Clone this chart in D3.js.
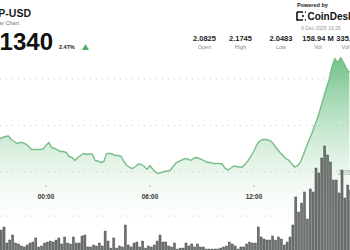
<!DOCTYPE html>
<html><head><meta charset="utf-8">
<script src="https://cdn.jsdelivr.net/npm/d3@7"></script>
<style>
html,body{margin:0;padding:0;background:#fff;overflow:hidden}
svg{display:block;font-family:"Liberation Sans",Arial,sans-serif}
</style></head>
<body><svg id="c" width="350" height="250"></svg>
<script>
// ---- data ----
const symbol = "XRP-USD";
const subtitle = "XRP to US Dollar Chart";
const lastPrice = "2.1340";
const changePct = "2.47%";
const statValues = ["2.0825", "2.1745", "2.0483", "158.94 M", "335.87 M"];
const statLabels = ["Open", "High", "Low", "Vol", "Vol USD"];
const stampText = "9 Dec 2025 19:25";
const tickLabels = ["00:00", "06:00", "12:00"];
const tickTimes = ["2025-12-09T00:00", "2025-12-09T06:00", "2025-12-09T12:00"];
const priceGrid = [2.05, 2.10, 2.15];
const volGrid = [4];
const startTime = "2025-12-08T21:20";
const stepMinutes = 10;
const prices = [
 2.0860,2.0871,2.0882,2.0887,2.0849,2.0828,2.0806,2.0817,2.0817,2.0801,
 2.0774,2.0742,2.0742,2.0742,2.0742,2.0747,2.0785,2.0817,2.0763,2.0753,
 2.0737,2.0720,2.0720,2.0710,2.0667,2.0656,2.0624,2.0656,2.0677,2.0699,
 2.0688,2.0694,2.0694,2.0624,2.0618,2.0602,2.0613,2.0699,2.0699,2.0694,
 2.0677,2.0677,2.0667,2.0613,2.0570,2.0548,2.0538,2.0559,2.0586,2.0581,
 2.0559,2.0527,2.0570,2.0527,2.0495,2.0484,2.0495,2.0505,2.0511,2.0516,
 2.0559,2.0597,2.0613,2.0629,2.0645,2.0640,2.0624,2.0645,2.0656,2.0645,
 2.0634,2.0618,2.0602,2.0602,2.0591,2.0591,2.0591,2.0586,2.0538,2.0522,
 2.0543,2.0565,2.0559,2.0554,2.0554,2.0586,2.0624,2.0672,2.0726,2.0796,
 2.0833,2.0849,2.0849,2.0844,2.0828,2.0790,2.0747,2.0710,2.0677,2.0645,
 2.0629,2.0591,2.0554,2.0565,2.0602,2.0677,2.0763,2.0839,2.0914,2.1000,
 2.1081,2.1183,2.1290,2.1398,2.1495,2.1634,2.1720,2.1677,2.1731,2.1677,
 2.1613,2.1570];
const volumes = [
 2.44,2.78,1.00,1.33,1.89,1.00,0.89,0.67,0.56,0.78,
 1.00,1.11,1.56,0.56,0.67,1.00,1.11,1.22,1.11,1.33,
 1.56,0.89,1.67,1.00,0.89,1.67,1.00,1.00,1.78,1.89,
 0.56,0.56,0.78,0.67,1.00,0.67,2.33,1.22,0.44,1.56,
 0.44,0.67,0.56,3.00,0.78,0.56,1.00,1.11,0.56,1.22,
 0.44,0.67,0.56,0.78,1.22,1.89,1.11,1.11,0.67,0.56,
 1.00,0.33,0.44,0.44,1.00,0.67,0.89,0.56,0.89,0.56,
 0.56,0.33,0.33,0.33,0.33,0.33,0.44,0.56,0.67,1.11,
 0.89,0.67,0.33,0.56,0.56,0.89,1.11,1.00,1.00,2.78,
 1.67,1.44,1.33,1.33,1.78,1.33,1.67,1.44,0.78,1.11,
 1.67,3.00,6.11,4.44,5.44,6.67,3.67,7.00,6.67,9.33,
 8.78,10.44,11.78,10.78,10.00,8.00,8.00,6.56,9.11,6.00,
 7.44,6.89];

// ---- build ----
const svg = d3.select("#c");
const t0 = new Date(startTime);
const times = prices.map((_, i) => d3.timeMinute.offset(t0, i * stepMinutes));
const data = times.map((t, i) => ({t, p: prices[i], v: volumes[i]}));

const x = d3.scaleTime()
  .domain([new Date(tickTimes[0]), new Date(tickTimes[1])])
  .range([46, 150]);
const y = d3.scaleLinear().domain([2.05, 2.15]).range([172, 79]);
const yv = d3.scaleLinear().domain([0, 4]).range([252, 216]);

const defs = svg.append("defs");
const grad = defs.append("linearGradient").attr("id", "ag")
  .attr("gradientUnits", "userSpaceOnUse").attr("x1", 0).attr("x2", 0)
  .attr("y1", 55).attr("y2", 235);
grad.append("stop").attr("offset", "0%").attr("stop-color", "#5cb877").attr("stop-opacity", 0.9);
grad.append("stop").attr("offset", "45%").attr("stop-color", "#8fd0a0").attr("stop-opacity", 0.45);
grad.append("stop").attr("offset", "100%").attr("stop-color", "#ffffff").attr("stop-opacity", 0);

// grid
const gridG = svg.append("g");
priceGrid.forEach(v => {
  gridG.append("line").attr("x1", 0).attr("x2", 350).attr("y1", y(v)).attr("y2", y(v))
    .attr("stroke", "#c8c8c8").attr("stroke-width", 1).attr("stroke-dasharray", "1,5");
});
volGrid.forEach(v => {
  gridG.append("line").attr("x1", 0).attr("x2", 350).attr("y1", yv(v)).attr("y2", yv(v))
    .attr("stroke", "#c8c8c8").attr("stroke-width", 1).attr("stroke-dasharray", "1,5");
});
svg.append("text").attr("x", 338).attr("y", y(2.05) + 3).attr("font-size", 6.5)
  .attr("fill", "#999").text("2.05");

// area
const area = d3.area().x(d => x(d.t)).y0(252).y1(d => y(d.p)).curve(d3.curveLinear);
svg.append("path").datum(data).attr("d", area).attr("fill", "url(#ag)");

// time axis labels
tickTimes.forEach((tt, i) => {
  const xx = x(new Date(tt));
  svg.append("rect").attr("x", xx - 0.5).attr("y", 185.5).attr("width", 1).attr("height", 1.5).attr("fill", "#aaa");
  svg.append("text").attr("x", xx).attr("y", 198.5).attr("text-anchor", "middle")
    .attr("font-size", 6.5).attr("font-weight", "bold").attr("fill", "#333").text(tickLabels[i]);
});

// volume bars
const bw = x(d3.timeMinute.offset(t0, stepMinutes)) - x(t0);
svg.append("g").selectAll("rect").data(data).join("rect")
  .attr("x", d => x(d.t) + 0.3).attr("width", bw - 0.8)
  .attr("y", d => yv(d.v)).attr("height", d => 252 - yv(d.v))
  .attr("fill", "#6e736f").attr("stroke", "#3e423f").attr("stroke-width", 0.4);

// price line
const line = d3.line().x(d => x(d.t)).y(d => y(d.p));
svg.append("path").datum(data).attr("d", line).attr("fill", "none")
  .attr("stroke", "#79bd8b").attr("stroke-width", 1.4).attr("stroke-linejoin", "round");

// header
svg.append("text").attr("x", 31).attr("y", 17).attr("text-anchor", "end")
  .attr("font-size", 10.5).attr("font-weight", "bold").attr("fill", "#1a1a1a").text(symbol);
svg.append("text").attr("x", 19).attr("y", 25).attr("text-anchor", "end")
  .attr("font-size", 5.5).attr("fill", "#777").text(subtitle);
svg.append("text").attr("x", 53).attr("y", 50).attr("text-anchor", "end")
  .attr("font-size", 24).attr("font-weight", "bold").attr("fill", "#111").text(lastPrice);
svg.append("text").attr("x", 59).attr("y", 49).attr("font-size", 5.5).attr("font-weight", "bold")
  .attr("fill", "#222").text(changePct);
svg.append("path").attr("d", "M82,50 L85.5,44 L89,50 Z").attr("fill", "#4cae62");

// powered by
svg.append("text").attr("x", 297).attr("y", 7).attr("font-size", 5.5).attr("font-weight", "bold")
  .attr("fill", "#222").text("Powered by");
const logo = svg.append("g");
logo.append("path").attr("d", "M297,12 h6 M297,12 v8 h6 M305,12 h1 M305,20 h1 M303,15 v2")
  .attr("stroke", "#111").attr("stroke-width", 1.6).attr("fill", "none");
logo.append("text").attr("x", 307.5).attr("y", 20).attr("font-size", 10).attr("font-weight", "bold")
  .attr("fill", "#111").text("CoinDesk");
svg.append("text").attr("x", 301).attr("y", 29.5).attr("font-size", 5).attr("fill", "#999").text(stampText);

const statX = [204.5, 240.5, 281, 318, 352];
statValues.forEach((v, i) => {
  svg.append("text").attr("x", statX[i]).attr("y", 40.5).attr("text-anchor", "middle")
    .attr("font-size", 7.5).attr("font-weight", "bold").attr("fill", "#222").text(v);
  svg.append("text").attr("x", statX[i]).attr("y", 49).attr("text-anchor", "middle")
    .attr("font-size", 5.5).attr("fill", "#888").text(statLabels[i]);
});
</script></body></html>
